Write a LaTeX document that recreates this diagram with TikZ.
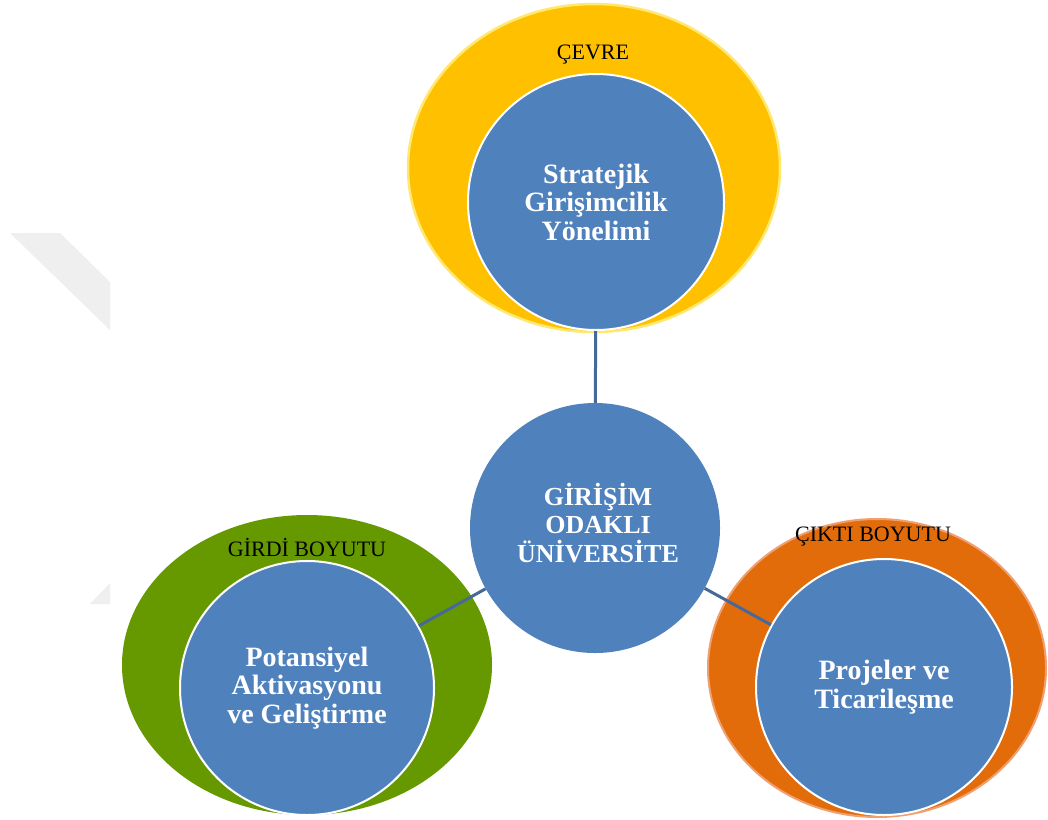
\documentclass[tikz,border=0pt]{standalone}
\usepackage{fontspec}
\setmainfont{Liberation Serif}
\usetikzlibrary{shapes.geometric}
\definecolor{cblue}{HTML}{4F81BD}
\definecolor{cyellow}{HTML}{FFC000}
\definecolor{cyellowrim}{HTML}{FFE870}
\definecolor{cgreen}{HTML}{669900}
\definecolor{corange}{HTML}{E36C0A}
\definecolor{corangerim}{HTML}{F0A070}
\definecolor{cline}{HTML}{46699A}
\definecolor{cmark}{HTML}{EFEFEF}
\tikzset{
  outer/.style={ellipse, inner sep=0pt},
  inner/.style={circle, fill=cblue, draw=white, line width=2pt, inner sep=0pt,
    text=white, align=center, font=\fontsize{28}{28.5}\selectfont\bfseries},
  hub/.style={circle, fill=cblue, inner sep=0pt, minimum size=250pt,
    text=white, align=center, font=\fontsize{26}{28.5}\selectfont\bfseries},
  dimlabel/.style={text=black, font=\fontsize{22}{24}\selectfont, inner sep=0pt},
  link/.style={draw=cline, line width=3pt}
}
\begin{document}
\begin{tikzpicture}[x=1pt,y=-1pt]
\useasboundingbox (0,0) rectangle (1048,819);
\fill[white] (0,0) rectangle (1048,819);
% faint background marks
\fill[cmark] (10,233) -- (60,233) -- (110,282) -- (110,330) -- cycle;
\fill[cmark] (110,583) -- (110,604) -- (90,604) -- cycle;
% outer ellipses
\node[outer, fill=cyellow, draw=cyellowrim, line width=2.5pt, minimum width=372pt, minimum height=328pt] (env) at (594,168) {};
\node[outer, fill=cgreen, minimum width=370pt, minimum height=300pt] (inp) at (307,665) {};
\node[outer, fill=corange, draw=corangerim, line width=2pt, minimum width=338pt, minimum height=298pt] (outp) at (877,668) {};
% labels
\node[dimlabel] (envl) at (593,55) {ÇEVRE};
\node[dimlabel] (inpl) at (307,548) {GİRDİ BOYUTU};
\node[dimlabel] (outpl) at (873,537) {ÇIKTI BOYUTU};
% circles
\node[inner, minimum size=256pt] (sgy) at (596,202) {Stratejik\\Girişimcilik\\Yönelimi};
\node[hub] (gou) at (595,528) {};
\node[text=white, align=center, font=\fontsize{26}{28.5}\selectfont\bfseries] (goutext) at (598,523) {GİRİŞİM\\ODAKLI\\ÜNİVERSİTE};
\node[inner, minimum size=254pt] (pag) at (307,688) {Potansiyel\\Aktivasyonu\\ve Geliştirme};
\node[inner, minimum size=256pt] (pt) at (884,687) {Projeler ve\\Ticarileşme};
% connectors
\draw[link] (sgy) -- (gou);
\draw[link] (gou) -- (pag);
\draw[link] (gou) -- (pt);
\end{tikzpicture}
\end{document}
